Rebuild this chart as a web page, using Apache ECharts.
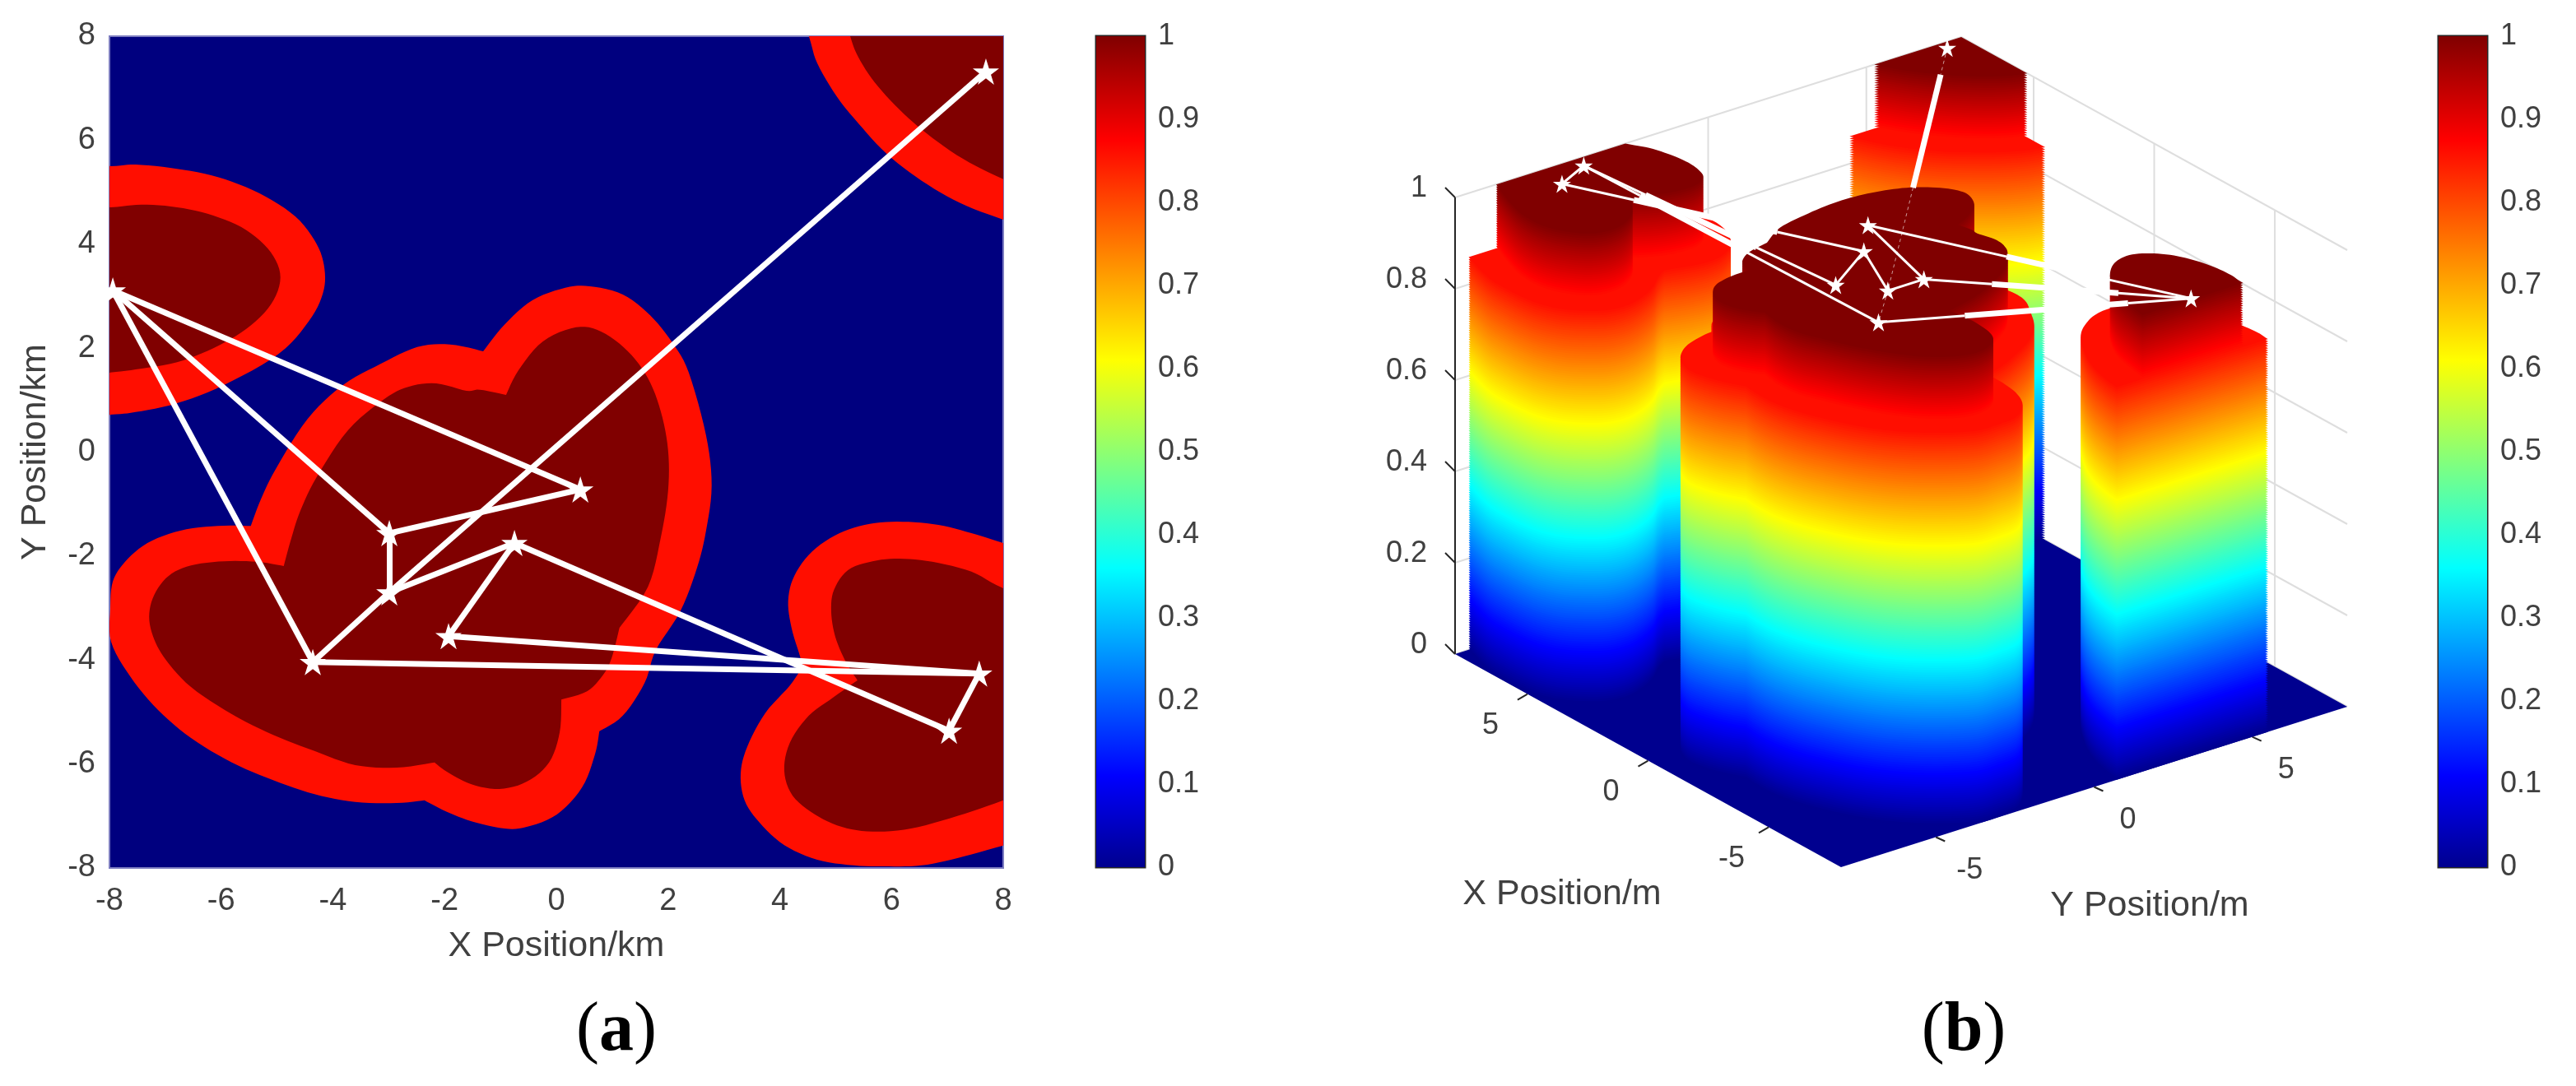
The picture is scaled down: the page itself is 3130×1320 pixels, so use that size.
<!DOCTYPE html>
<html><head><meta charset="utf-8">
<style>html,body{margin:0;padding:0;background:#fff}#c{width:3130px;height:1320px}</style>
<script src="https://cdn.jsdelivr.net/npm/echarts@6/dist/echarts.min.js"></script>
</head><body><div id="c"></div>
<script>
// ---------- data (km; a repeated point marks a sharp corner) ----------
const COLORBAR_TICKS = [0,0.1,0.2,0.3,0.4,0.5,0.6,0.7,0.8,0.9,1];
const XY_TICKS = [-5,0,5];
const Z_RING = 0.86;   // height of the outer ring
const Z_TOP = 1;       // height of the inner core

const centralOuter = [[-5.47,-1.42],[-5.47,-1.42],[-5.29,-0.91],[-5.02,-0.32],[-4.46,0.63],[-3.82,1.29],[-3.14,1.70],[-2.49,2.02],[-1.90,2.07],[-1.31,1.94],[-1.31,1.94],[-0.93,2.45],[-0.43,2.92],[0.16,3.16],[0.60,3.19],[1.19,3.03],[1.68,2.63],[2.08,2.10],[2.37,1.53],[2.68,0.32],[2.78,-0.64],[2.68,-1.51],[2.52,-2.22],[2.22,-3.06],[1.78,-3.81],[1.58,-4.44],[1.19,-5.07],[0.77,-5.37],[0.77,-5.37],[0.69,-5.82],[0.46,-6.45],[0.01,-6.97],[-0.53,-7.21],[-0.93,-7.24],[-1.52,-7.10],[-1.96,-6.92],[-2.36,-6.70],[-2.36,-6.70],[-2.86,-6.75],[-3.60,-6.73],[-4.33,-6.58],[-5.07,-6.31],[-5.81,-5.97],[-6.54,-5.50],[-7.13,-4.96],[-7.62,-4.33],[-7.97,-3.65],[-7.985,-3.01],[-7.94,-2.49],[-7.72,-2.11],[-7.32,-1.75],[-6.73,-1.51],[-6.06,-1.42]];
const centralInner = [[-4.88,-2.19],[-4.88,-2.19],[-4.74,-1.64],[-4.58,-1.12],[-4.29,-0.48],[-3.73,0.42],[-3.08,1.02],[-2.64,1.26],[-2.15,1.32],[-1.61,1.18],[-1.37,1.20],[-0.90,1.10],[-0.90,1.10],[-0.68,1.57],[-0.24,2.13],[0.35,2.40],[0.80,2.32],[1.28,1.94],[1.64,1.42],[1.87,0.78],[2.00,0.04],[2.00,-0.75],[1.87,-1.64],[1.64,-2.59],[1.13,-3.38],[1.13,-3.38],[0.99,-3.96],[0.84,-4.28],[0.55,-4.60],[0.09,-4.76],[0.09,-4.76],[0.06,-5.39],[-0.13,-5.97],[-0.53,-6.34],[-1.02,-6.48],[-1.52,-6.39],[-1.96,-6.15],[-2.18,-5.97],[-2.18,-5.97],[-2.86,-6.07],[-3.60,-6.02],[-4.33,-5.75],[-5.07,-5.44],[-5.81,-5.04],[-6.54,-4.52],[-6.98,-4.01],[-7.20,-3.60],[-7.29,-3.17],[-7.20,-2.75],[-6.94,-2.38],[-6.54,-2.18],[-5.95,-2.10],[-5.36,-2.11]];
const westOuter = [[-9,5.5],[-7.985,5.50],[-7.53,5.53],[-6.79,5.45],[-6.06,5.29],[-5.32,4.98],[-4.67,4.53],[-4.29,4.00],[-4.15,3.52],[-4.18,3.05],[-4.43,2.52],[-4.97,1.89],[-5.95,1.29],[-6.79,0.94],[-7.53,0.77],[-7.985,0.72],[-9,0.65]];
const westInner = [[-9,4.7],[-7.985,4.71],[-7.43,4.76],[-6.79,4.71],[-6.14,4.55],[-5.55,4.27],[-5.11,3.84],[-4.94,3.36],[-5.11,2.84],[-5.55,2.37],[-6.14,2.00],[-6.79,1.73],[-7.53,1.59],[-7.985,1.53],[-9,1.4]];
const cornerOuter = [[4.2,9],[4.52,8],[4.67,7.48],[5.02,6.84],[5.41,6.32],[5.91,5.74],[6.54,5.22],[7.23,4.79],[8,4.47],[9,4.1],[9,9]];
const cornerInner = [[5,9],[5.26,8],[5.41,7.59],[5.70,7.11],[6.14,6.59],[6.64,6.12],[7.28,5.64],[8,5.25],[9,4.8],[9,9]];
const eastOuter = [[9,-2.1],[8,-1.75],[7.43,-1.56],[6.84,-1.40],[6.20,-1.34],[5.61,-1.38],[5.07,-1.56],[4.58,-1.91],[4.26,-2.38],[4.15,-2.86],[4.21,-3.38],[4.36,-3.92],[4.41,-4.12],[4.41,-4.12],[4.18,-4.49],[3.74,-5.02],[3.42,-5.66],[3.30,-6.18],[3.37,-6.70],[3.64,-7.13],[4.08,-7.56],[4.67,-7.84],[5.32,-7.95],[5.95,-7.97],[6.54,-7.95],[7.18,-7.81],[8,-7.57],[9,-7.3]];
const eastInner = [[9,-3],[8,-2.62],[7.43,-2.30],[6.73,-2.11],[6.14,-2.05],[5.66,-2.10],[5.22,-2.27],[4.97,-2.65],[4.92,-3.06],[4.99,-3.54],[5.17,-4.01],[5.39,-4.39],[5.39,-4.39],[4.97,-4.71],[4.52,-5.07],[4.18,-5.59],[4.08,-6.13],[4.23,-6.61],[4.63,-6.97],[5.11,-7.21],[5.66,-7.30],[6.35,-7.24],[7.18,-7.00],[8,-6.70],[9,-6.3]];

const waypoints = [[7.69,7.32],[-4.36,-4.04],[-7.94,3.11],[0.43,-0.72],[-2.99,-1.56],[-2.99,-2.70],[-0.75,-1.75],[-1.93,-3.54],[7.57,-4.26],[7.03,-5.36]];
const routeEdges = [[0,5],[5,1],[1,2],[2,3],[3,4],[4,2],[4,5],[5,6],[6,7],[7,8],[8,9],[9,6],[1,8]];
const faintEdges = [0,1];

// ---------- colour map ----------
const JET = [[0,'#00008f'],[0.11,'#0000ff'],[0.36,'#00ffff'],[0.61,'#ffff00'],[0.875,'#ff0000'],[1,'#800000']];
const hex = c => [1,3,5].map(i => parseInt(c.substr(i,2),16));
function jet(z){
  for (let i=1;i<JET.length;i++){
    if (z<=JET[i][0]){
      const t=(z-JET[i-1][0])/(JET[i][0]-JET[i-1][0]), a=hex(JET[i-1][1]), b=hex(JET[i][1]);
      return 'rgb('+a.map((v,k)=>Math.round(v+(b[k]-v)*t)).join(',')+')';
    }
  }
  return JET[JET.length-1][1];
}
const jetStops = JET.map(s=>({offset:s[0],color:s[1]}));

// ---------- geometry helpers ----------
function curve(p,n=6){ // closed Catmull-Rom through the read points
  const out=[],L=p.length;
  for(let i=0;i<L;i++){
    const a=p[(i-1+L)%L],b=p[i],c=p[(i+1)%L],d=p[(i+2)%L];
    if(b[0]===c[0]&&b[1]===c[1]) continue;
    for(let k=0;k<n;k++){
      const t=k/n,t2=t*t,t3=t2*t;
      out.push([0,1].map(j=>0.5*(2*b[j]+(c[j]-a[j])*t+(2*a[j]-5*b[j]+4*c[j]-d[j])*t2+(3*b[j]-a[j]-3*c[j]+d[j])*t3)));
    }
  }
  return out;
}
function clipSquare(poly,lim=8){
  const planes=[[0,1],[0,-1],[1,1],[1,-1]];
  let res=poly;
  for(const [ax,s] of planes){
    const inp=res;res=[];
    for(let i=0;i<inp.length;i++){
      const a=inp[i],b=inp[(i+1)%inp.length];
      const ia=s*a[ax]<=lim, ib=s*b[ax]<=lim;
      if(ia) res.push(a);
      if(ia!==ib){const t=(s*lim-a[ax])/(b[ax]-a[ax]);res.push([a[0]+(b[0]-a[0])*t,a[1]+(b[1]-a[1])*t]);}
    }
  }
  return res;
}
function inside(pt,poly){
  let c=false;
  for(let i=0,j=poly.length-1;i<poly.length;j=i++){
    if((poly[i][1]>pt[1])!==(poly[j][1]>pt[1]) && pt[0]<(poly[j][0]-poly[i][0])*(pt[1]-poly[i][1])/(poly[j][1]-poly[i][1])+poly[i][0]) c=!c;
  }
  return c;
}
// orthographic view of panel (b): plane coordinates of a data point
function view(x,y,z){ return [-29.31*x+38.44*y, 16.19*x+12.19*y+555*z]; }

// ---------- prepared marks ----------
const flatPolys = [[centralOuter,0],[centralInner,1],[westOuter,0],[westInner,1],[cornerOuter,0],[cornerInner,1],[eastOuter,0],[eastInner,1]]
  .map(([p,k])=>({pts:curve(p),k}));
const towers = [[cornerOuter,cornerInner],[eastOuter,eastInner],[centralOuter,centralInner],[westOuter,westInner]]
  .map(([o,i])=>[clipSquare(curve(o)),clipSquare(curve(i))]);
const layers=[];
towers.forEach((t,ti)=>{
  for(let z=0;z<Z_RING;z+=0.005) layers.push([ti,0,z]);
  layers.push([ti,0,Z_RING]);
  for(let z=Z_RING+0.005;z<Z_TOP;z+=0.005) layers.push([ti,1,z]);
  layers.push([ti,1,Z_TOP]);
});
const tops = towers.map(t=>t[1]);
const routeRuns=[];
routeEdges.forEach((e,ei)=>{
  const a=waypoints[e[0]],b=waypoints[e[1]];
  const n=Math.ceil(Math.hypot(a[0]-b[0],a[1]-b[1])/0.06);
  let start=a,st=tops.some(p=>inside(a,p));
  for(let i=1;i<=n;i++){
    const q=[a[0]+(b[0]-a[0])*i/n,a[1]+(b[1]-a[1])*i/n];
    const s=tops.some(p=>inside(q,p));
    if(s!==st||i===n){routeRuns.push([start[0],start[1],q[0],q[1],st?1:0,faintEdges.includes(ei)?1:0]);start=q;st=s;}
  }
});
const wallLines=[];
const ZT=COLORBAR_TICKS.filter((v,i)=>i%2===0);
ZT.forEach(z=>{wallLines.push([8,-8,z,8,8,z]);wallLines.push([8,8,z,-8,8,z]);});
XY_TICKS.forEach(t=>{wallLines.push([8,t,0,8,t,1]);wallLines.push([t,8,0,t,8,1]);});

const FONT='"Liberation Sans",Arial,sans-serif';
const GRAY='#404040';
const STAR='path://M50 0L61.2 34.6L97.6 34.5L68.1 55.9L79.4 90.5L50 69L20.6 90.5L31.9 55.9L2.4 34.5L38.8 34.6Z';
const tickLabel={fontFamily:FONT,fontSize:36,color:GRAY};
const axisLabelA={fontFamily:FONT,fontSize:38,color:GRAY};

function colorbarAxis(i){return {
  gridIndex:i,type:'value',min:0,max:1,interval:0.1,position:'right',
  axisLine:{show:false},splitLine:{show:false},
  axisTick:{show:true,inside:true,length:10,lineStyle:{color:'#262626',width:2}},
  axisLabel:Object.assign({margin:16},tickLabel)
};}
function hiddenCat(i){return {gridIndex:i,type:'category',data:['c'],show:false};}
function colorbarSeries(i){return {
  type:'bar',xAxisIndex:i,yAxisIndex:i,data:[1],barWidth:'100%',silent:true,animation:false,
  itemStyle:{color:{type:'linear',x:0,y:1,x2:0,y2:0,colorStops:jetStops}}
};}
const captionRich={r:{fontFamily:'"Liberation Serif",serif',fontSize:84,fill:'#000'},b:{fontFamily:'"Liberation Serif",serif',fontSize:84,fontWeight:'bold',fill:'#000'}};

const option={
  backgroundColor:'#fff',
  animation:false,
  grid:[
    {left:133,top:44,width:1086,height:1011,show:true,backgroundColor:'#00007f',borderColor:'#7d7dc0',borderWidth:2},
    {left:1332,top:44,width:59,height:1010,show:true,borderColor:'#262626',borderWidth:3,backgroundColor:'transparent'},
    {left:1710,top:27,width:1200,height:1100,show:false},
    {left:2963,top:44,width:59,height:1010,show:true,borderColor:'#262626',borderWidth:3,backgroundColor:'transparent'}
  ],
  xAxis:[
    {gridIndex:0,type:'value',min:-8,max:8,interval:2,splitLine:{show:false},axisTick:{show:false},
      axisLine:{show:false,onZero:false},axisLabel:Object.assign({margin:22},axisLabelA),
      name:'X Position/km',nameLocation:'middle',nameGap:74,nameTextStyle:{fontFamily:FONT,fontSize:43,color:GRAY}},
    hiddenCat(1),
    {gridIndex:2,type:'value',min:-600,max:600,show:false},
    hiddenCat(3)
  ],
  yAxis:[
    {gridIndex:0,type:'value',min:-8,max:8,interval:2,splitLine:{show:false},axisTick:{show:false},
      axisLine:{show:false,onZero:false},axisLabel:Object.assign({margin:17},axisLabelA),
      name:'Y Position/km',nameLocation:'middle',nameGap:68,nameTextStyle:{fontFamily:FONT,fontSize:43,color:GRAY}},
    colorbarAxis(1),
    {gridIndex:2,type:'value',min:-300,max:800,show:false},
    colorbarAxis(3)
  ],
  graphic:[
    {type:'text',silent:true,x:749,y:1254,style:{text:'{r|(}{b|a}{r|)}',align:'center',verticalAlign:'middle',rich:captionRich}},
    {type:'text',silent:true,x:2386,y:1254,style:{text:'{r|(}{b|b}{r|)}',align:'center',verticalAlign:'middle',rich:captionRich}},
    {type:'text',silent:true,x:1898,y:1087,style:{text:'X Position/m',align:'center',verticalAlign:'middle',font:'43px '+FONT,fill:GRAY}},
    {type:'text',silent:true,x:2612,y:1101,style:{text:'Y Position/m',align:'center',verticalAlign:'middle',font:'43px '+FONT,fill:GRAY}}
  ],
  series:[
    // panel (a) : region map
    {type:'custom',xAxisIndex:0,yAxisIndex:0,clip:true,silent:true,
      data:flatPolys.map((p,i)=>[i]),
      renderItem(params,api){
        const p=flatPolys[api.value(0)];
        return {type:'polygon',shape:{points:p.pts.map(q=>api.coord(q))},style:{fill:p.k?jet(Z_TOP):jet(Z_RING)}};
      }},
    {type:'lines',coordinateSystem:'cartesian2d',xAxisIndex:0,yAxisIndex:0,silent:true,polyline:false,
      data:routeEdges.map(e=>({coords:[waypoints[e[0]],waypoints[e[1]]]})),
      lineStyle:{color:'#fff',width:7,opacity:1}},
    {type:'scatter',xAxisIndex:0,yAxisIndex:0,silent:true,clip:false,data:waypoints,symbol:STAR,symbolSize:32,itemStyle:{color:'#fff',opacity:1}},
    colorbarSeries(1),
    // panel (b) : walls, floor
    {type:'custom',xAxisIndex:2,yAxisIndex:2,clip:false,silent:true,data:wallLines,
      renderItem(params,api){
        const a=api.coord(view(api.value(0),api.value(1),api.value(2))),b=api.coord(view(api.value(3),api.value(4),api.value(5)));
        return {type:'line',shape:{x1:a[0],y1:a[1],x2:b[0],y2:b[1]},style:{stroke:'#dedede',lineWidth:2}};
      }},
    {type:'custom',xAxisIndex:2,yAxisIndex:2,clip:false,silent:true,data:[[-8,-8],[8,-8],[8,8],[-8,8]],
      renderItem(params,api){
        if(params.dataIndex!==0) return null;
        const c=[[-8,-8],[8,-8],[8,8],[-8,8]].map(q=>api.coord(view(q[0],q[1],0)));
        return {type:'polygon',shape:{points:c},style:{fill:jet(0)}};
      }},
    // z axis, ticks
    {type:'custom',xAxisIndex:2,yAxisIndex:2,clip:false,silent:true,data:ZT.map(z=>[z]),
      renderItem(params,api){
        const z=api.value(0),a=api.coord(view(8,-8,z)),b=api.coord(view(8,-8,0)),c=api.coord(view(8,-8,1));
        return {type:'group',children:[
          {type:'line',shape:{x1:b[0],y1:b[1],x2:c[0],y2:c[1]},style:{stroke:'#262626',lineWidth:2}},
          {type:'line',shape:{x1:a[0],y1:a[1],x2:a[0]-12,y2:a[1]-12},style:{stroke:'#262626',lineWidth:2}},
          {type:'text',x:a[0]-34,y:a[1]-11,style:{text:String(Math.round(z*10)/10),align:'right',verticalAlign:'middle',font:'36px '+FONT,fill:GRAY}}
        ]};
      }},
    // x / y ticks
    {type:'custom',xAxisIndex:2,yAxisIndex:2,clip:false,silent:true,data:XY_TICKS.map(t=>[t]),
      renderItem(params,api){
        const t=api.value(0),a=api.coord(view(t,-8,0)),b=api.coord(view(-8,t,0));
        return {type:'group',children:[
          {type:'line',shape:{x1:a[0],y1:a[1],x2:a[0]-12,y2:a[1]+7},style:{stroke:'#262626',lineWidth:2}},
          {type:'line',shape:{x1:b[0],y1:b[1],x2:b[0]+11,y2:b[1]+5},style:{stroke:'#262626',lineWidth:2}},
          {type:'text',x:a[0]-45,y:a[1]+39,style:{text:String(t),align:'center',verticalAlign:'middle',font:'36px '+FONT,fill:GRAY}},
          {type:'text',x:b[0]+41,y:b[1]+41,style:{text:String(t),align:'center',verticalAlign:'middle',font:'36px '+FONT,fill:GRAY}}
        ]};
      }},
    // towers : stacked height layers
    {type:'custom',xAxisIndex:2,yAxisIndex:2,clip:false,silent:true,data:layers,progressive:0,
      renderItem(params,api){
        const z=api.value(2),poly=towers[api.value(0)][api.value(1)];
        return {type:'polygon',shape:{points:poly.map(q=>api.coord(view(q[0],q[1],z)))},style:{fill:jet(z)}};
      }},
    // route over the tops
    {type:'custom',xAxisIndex:2,yAxisIndex:2,clip:false,silent:true,data:routeRuns,
      renderItem(params,api){
        const a=api.coord(view(api.value(0),api.value(1),Z_TOP)),b=api.coord(view(api.value(2),api.value(3),Z_TOP));
        const onTop=api.value(4),faint=api.value(5);
        return {type:'line',shape:{x1:a[0],y1:a[1],x2:b[0],y2:b[1]},
          style:{stroke:'#fff',lineWidth:onTop?(faint?1:3):7,lineDash:onTop&&faint?[4,4]:null,opacity:onTop&&faint?0.6:1}};
      }},
    {type:'scatter',xAxisIndex:2,yAxisIndex:2,silent:true,clip:false,
      data:waypoints.map(p=>view(p[0],p[1],Z_TOP)),symbol:STAR,symbolSize:22,itemStyle:{color:'#fff',opacity:1}},
    colorbarSeries(3)
  ]
};
const chart=echarts.init(document.getElementById('c'),null,{renderer:'canvas',width:3130,height:1320});
chart.setOption(option);
</script></body></html>
